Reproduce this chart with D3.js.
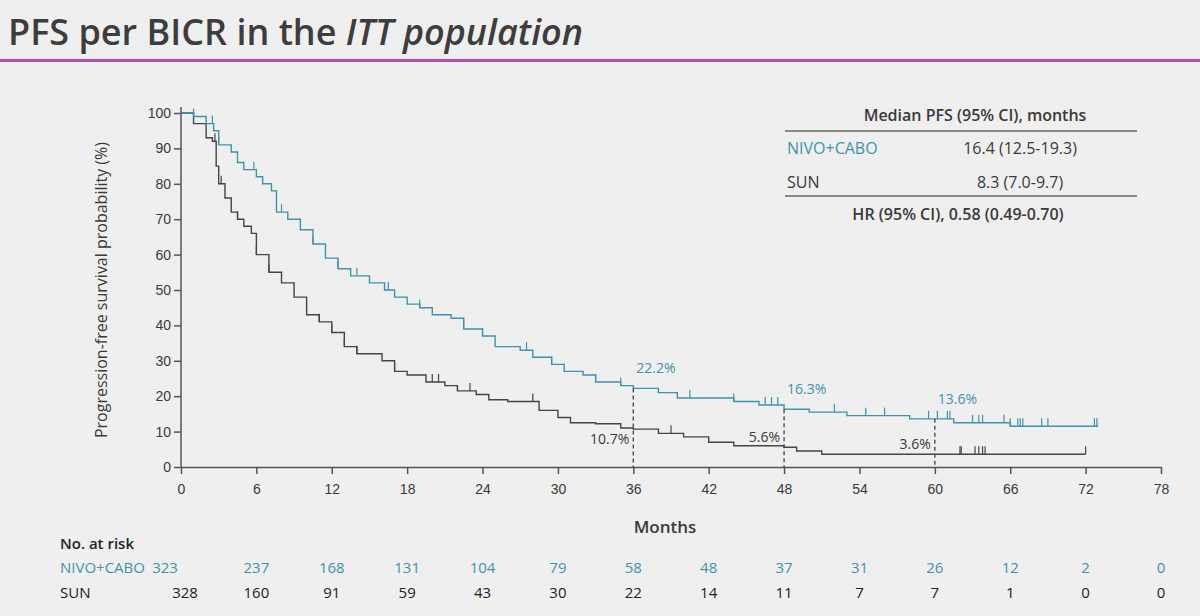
<!DOCTYPE html>
<html><head><meta charset="utf-8">
<script src="https://cdn.jsdelivr.net/npm/d3@7"></script>
<style>
body{margin:0;background:#efefef;font-family:"Open Sans",sans-serif;}
svg text{fill:#3a3a3a;}
</style></head>
<body><svg id="chart" width="1200" height="616"></svg>
<script>
var TEAL = "#3f93ad", DARK = "#454545";

// step points [month, survival %]
var nivoSteps = [[0,100],[1,99],[2,97],[2.6,95],[3,91],[4,89],[4.5,86],[5,84],[6,82],[6.5,80],[7.2,78],[7.6,72],[8.5,70],[9.5,67],[10.5,63],[11.5,59],[12.5,56],[13.5,54],[15,52],[16.2,50],[17,48],[18,46],[19,45],[20,43],[21.5,42],[22.5,39],[24,37],[25,34],[27,33],[28,31],[29.5,29],[30.5,27],[32,26],[33,24],[35,23],[36,22.2],[38,21],[39.5,19.5],[44,18.5],[46,17.5],[48,16.3],[50,15.5],[53,14.5],[58,13.6],[61.5,12.5],[66,11.5],[73,11.5]];
var sunSteps = [[0,100],[1,97],[2,93],[2.5,92],[2.8,85],[3,80],[3.5,76],[4,72],[4.5,70],[5,68],[5.6,66],[6,60],[7,55],[8,52],[9,48],[10,43],[11,41],[12,38],[13,34],[14,32],[16,30],[17,27],[18,26],[19.5,24],[21,23],[22,21.5],[23.5,20.5],[24.5,19],[26,18.5],[28.5,16],[30,14],[31,12.5],[33,12.2],[35,11],[36,10.7],[38,9.5],[40,8.5],[42,7],[44,6],[48,5.6],[49,4.5],[51,3.6],[72,3.6]];

var nivoCensor = [1,2.5,3,5.8,8,10.5,12.5,14,16.5,19,22.5,24,27.5,29.5,33,35,40.5,44,46.5,47,47.5,52,54.5,56,59.5,60.2,61,61.2,63,63.5,63.8,65.5,66,66.6,66.8,67,68.5,69,72.7,72.9];
var sunCensor = [2.7,3.2,4.5,6,7,11,12,13,14,17,20,20.5,23,28,39,62,62.1,63.2,63.5,63.8,64,72];

var landmarks = [36,48,60];
var nivoLandmark = ["22.2%","16.3%","13.6%"];
var sunLandmark = ["10.7%","5.6%","3.6%"];

var xTicks = d3.range(0,79,6);
var yTicks = d3.range(0,101,10);
var riskMonths = d3.range(0,79,6);
var nivoRisk = [323,237,168,131,104,79,58,48,37,31,26,12,2,0];
var sunRisk = [328,160,91,59,43,30,22,14,11,7,7,1,0,0];

var svg = d3.select("#chart");

// title
var title = svg.append("text").attr("x",8).attr("y",45).style("font-size","36px").style("font-weight","600").style("fill","#3d3d3d");
title.append("tspan").text("PFS per BICR in the ");
title.append("tspan").style("font-style","italic").text("ITT population");
svg.append("rect").attr("x",0).attr("y",59).attr("width",1200).attr("height",3).attr("fill","#b04fb0");

var x = d3.scaleLinear().domain([0,78]).range([181,1161]);
var y = d3.scaleLinear().domain([0,100]).range([467,113]);

var xAxis = svg.append("g").attr("transform","translate(0,467)")
	.call(d3.axisBottom(x).tickValues(xTicks).tickSize(7).tickSizeOuter(0));
var yAxis = svg.append("g").attr("transform","translate(181,0)")
	.call(d3.axisLeft(y).tickValues(yTicks).tickSize(7).tickSizeOuter(0));
[xAxis,yAxis].forEach(function(a){
	a.selectAll("path,line").attr("stroke","#555").attr("stroke-width",1.5);
	a.selectAll("text").style("font-size","14px").style("fill","#3a3a3a");
});
xAxis.selectAll("text").attr("dy","1.2em");
yAxis.select(".domain").attr("d","M0,107V467");

svg.append("text").attr("transform","translate(107,290) rotate(-90)").attr("text-anchor","middle")
	.style("font-size","16px").text("Progression-free survival probability (%)");
svg.append("text").attr("x",665).attr("y",533).attr("text-anchor","middle").style("font-size","17px").style("font-weight","600").text("Months");

var line = d3.line().x(function(d){return x(d[0]);}).y(function(d){return y(d[1]);}).curve(d3.curveStepAfter);

function stepAt(steps, t) {
	var v = steps[0][1];
	steps.forEach(function(s){ if (s[0] <= t) v = s[1]; });
	return v;
}

function drawCurve(steps, censor, color) {
	svg.append("path").datum(steps).attr("d",line).attr("fill","none").attr("stroke",color).attr("stroke-width",1.4);
	svg.selectAll(null).data(censor).enter().append("line")
		.attr("x1",function(d){return x(d);}).attr("x2",function(d){return x(d);})
		.attr("y1",function(d){return y(stepAt(steps,d));})
		.attr("y2",function(d){return y(stepAt(steps,d))-8;})
		.attr("stroke",color).attr("stroke-width",1.2);
}
drawCurve(sunSteps, sunCensor, DARK);
drawCurve(nivoSteps, nivoCensor, TEAL);

// landmark dashed lines and labels
landmarks.forEach(function(m,i){
	svg.append("line").attr("x1",x(m)).attr("x2",x(m)).attr("y1",y(stepAt(nivoSteps,m))).attr("y2",467)
		.attr("stroke","#444").attr("stroke-dasharray","4,3").attr("stroke-width",1.3);
	svg.append("text").attr("x",x(m)+3).attr("y",y(stepAt(nivoSteps,m))-15).style("font-size","14px").style("fill",TEAL).text(nivoLandmark[i]);
	// first SUN label sits under the curve, the later ones just above it
	svg.append("text").attr("x",x(m)-4).attr("y",y(stepAt(sunSteps,m)) + (i == 0 ? 15 : -5)).attr("text-anchor","end").style("font-size","14px").text(sunLandmark[i]);
});

// median table
var tb = svg.append("g").style("font-size","16px");
tb.append("text").attr("x",975).attr("y",121).attr("text-anchor","middle").style("font-weight","600").text("Median PFS (95% CI), months");
tb.append("line").attr("x1",785).attr("x2",1137).attr("y1",131).attr("y2",131).attr("stroke","#666").attr("stroke-width",1.5);
tb.append("text").attr("x",787).attr("y",154).style("fill",TEAL).text("NIVO+CABO");
tb.append("text").attr("x",1020).attr("y",154).attr("text-anchor","middle").text("16.4 (12.5-19.3)");
tb.append("text").attr("x",787).attr("y",188).text("SUN");
tb.append("text").attr("x",1020).attr("y",188).attr("text-anchor","middle").text("8.3 (7.0-9.7)");
tb.append("line").attr("x1",785).attr("x2",1137).attr("y1",196).attr("y2",196).attr("stroke","#666").attr("stroke-width",1.5);
tb.append("text").attr("x",958).attr("y",220).attr("text-anchor","middle").style("font-weight","600").text("HR (95% CI), 0.58 (0.49-0.70)");

// number at risk
svg.append("text").attr("x",60).attr("y",549).style("font-size","15px").style("fill","#222").style("font-weight","600").text("No. at risk");
svg.append("text").attr("x",60).attr("y",573).style("font-size","15px").style("fill",TEAL).text("NIVO+CABO");
svg.append("text").attr("x",60).attr("y",598).style("font-size","15px").style("fill","#222").text("SUN");
svg.selectAll(null).data(nivoRisk).enter().append("text")
	.attr("x",function(d,i){return x(riskMonths[i]) + (i==0 ? -16 : 0);}).attr("y",573).attr("text-anchor","middle")
	.style("font-size","15px").style("fill",TEAL).text(function(d){return d;});
svg.selectAll(null).data(sunRisk).enter().append("text")
	.attr("x",function(d,i){return x(riskMonths[i]) + (i==0 ? 4 : 0);}).attr("y",598).attr("text-anchor","middle")
	.style("font-size","15px").style("fill","#222").text(function(d){return d;});
</script></body></html>
